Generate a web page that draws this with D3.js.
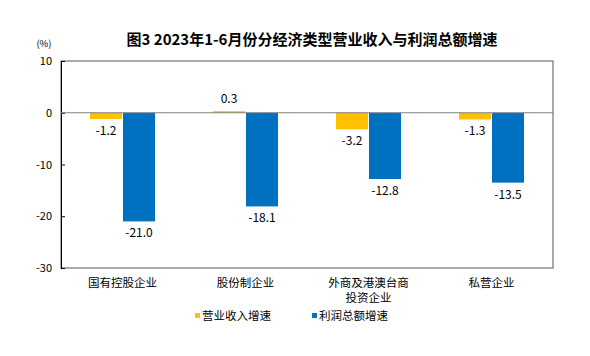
<!DOCTYPE html>
<html><head><meta charset="utf-8">
<script src="https://cdn.jsdelivr.net/npm/d3@7"></script>
<style>body{margin:0;background:#fff}text{font-family:"Noto Sans CJK SC","Noto Sans",sans-serif}</style>
</head><body><svg id="c" width="590" height="356"></svg>
<script>
const title = "图3 2023年1-6月份分经济类型营业收入与利润总额增速";
const categories = [["国有控股企业"],["股份制企业"],["外商及港澳台商","投资企业"],["私营企业"]];
const seriesNames = ["营业收入增速","利润总额增速"];
const revenue = [-1.2, 0.3, -3.2, -1.3];
const profit = [-21.0, -18.1, -12.8, -13.5];
const yTicks = [10, 0, -10, -20, -30];
const colors = ["#FFC000", "#0070C0"];

const svg = d3.select("#c");
const L = 61, R = 553, T = 61, B = 268;
const x = d3.scaleBand().domain(d3.range(categories.length)).range([L, R]);
const y = d3.scaleLinear().domain([-30, 10]).range([B, T]);
const bw = 32;

svg.append("text").attr("x", 312).attr("y", 45).attr("text-anchor", "middle")
  .attr("font-size", 15).attr("font-weight", "bold").attr("fill", "#000").text(title);
svg.append("text").attr("x", 44).attr("y", 47).attr("text-anchor", "middle")
  .attr("font-size", 9.5).attr("fill", "#000").text("(%)");

// frame
svg.append("rect").attr("x", L).attr("y", T).attr("width", R - L).attr("height", B - T)
  .attr("fill", "none").attr("stroke", "#555").attr("stroke-width", 1);

// y axis
const ya = svg.append("g").attr("transform", `translate(${L},0)`)
  .call(d3.axisLeft(y).tickValues(yTicks).tickSize(-4).tickFormat(d => String(d)));
ya.select(".domain").attr("stroke", "#000");
ya.selectAll(".tick line").attr("stroke", "#000");
ya.selectAll(".tick text").attr("x", -9).attr("font-size", 11)
  .attr("font-family", "'Liberation Serif','DejaVu Serif',serif").attr("fill", "#000");

// bars
const data = [revenue, profit];
data.forEach((vals, s) => {
  const g = svg.append("g");
  vals.forEach((v, i) => {
    const cx = x(i) + x.bandwidth() / 2;
    const x0 = s === 0 ? cx - bw - 0.5 : cx + 0.5;
    g.append("rect").attr("x", x0).attr("width", bw)
      .attr("y", Math.min(y(v), y(0))).attr("height", Math.abs(y(v) - y(0)))
      .attr("fill", colors[s]);
    g.append("text").attr("x", x0 + bw / 2)
      .attr("y", v >= 0 ? y(v) - 8 : y(v) + 16)
      .attr("text-anchor", "middle").attr("font-size", 12).attr("fill", "#000")
      .text(v.toFixed(1));
  });
});

// zero line
svg.append("line").attr("x1", L).attr("x2", R).attr("y1", y(0)).attr("y2", y(0))
  .attr("stroke", "#808080").attr("stroke-width", 1);

// category labels
categories.forEach((lines, i) => {
  const cx = x(i) + x.bandwidth() / 2;
  lines.forEach((t, k) => {
    svg.append("text").attr("x", cx).attr("y", 287 + k * 15).attr("text-anchor", "middle")
      .attr("font-size", 11.5).attr("fill", "#000").text(t);
  });
});

// legend
const lx = [195, 312];
seriesNames.forEach((n, s) => {
  svg.append("rect").attr("x", lx[s]).attr("y", 313).attr("width", 5).attr("height", 5).attr("fill", colors[s]);
  svg.append("text").attr("x", lx[s] + 7).attr("y", 320).attr("font-size", 11.5).attr("fill", "#000").text(n);
});
</script></body></html>
